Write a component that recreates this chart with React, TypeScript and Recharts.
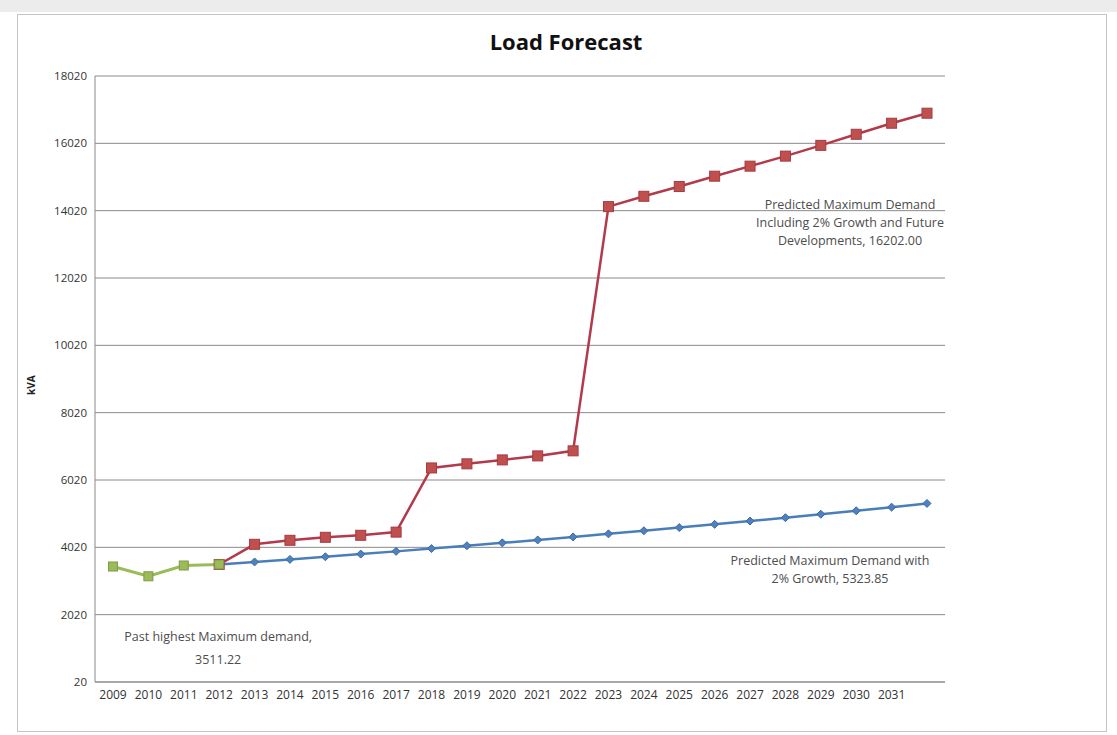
import React from 'react';
import { LineChart, Line, XAxis, YAxis, CartesianGrid, ReferenceDot } from 'recharts';

// years on the category axis (last point has no printed label)
const years = ['2009', '2010', '2011', '2012', '2013', '2014', '2015', '2016', '2017', '2018', '2019', '2020',
  '2021', '2022', '2023', '2024', '2025', '2026', '2027', '2028', '2029', '2030', '2031', '2032'];
const xTickLabels = ['2009', '2010', '2011', '2012', '2013', '2014', '2015', '2016', '2017', '2018', '2019', '2020',
  '2021', '2022', '2023', '2024', '2025', '2026', '2027', '2028', '2029', '2030', '2031', ''];

// past recorded demand (kVA)
const pastDemand = [3450, 3160, 3480, 3511, null, null, null, null, null, null, null, null,
  null, null, null, null, null, null, null, null, null, null, null, null];

// predicted maximum demand with 2% growth
const growthDemand = [null, null, null, 3511, 3586, 3662, 3740, 3819, 3900, 3983, 4067, 4153,
  4240, 4329, 4420, 4513, 4607, 4703, 4801, 4901, 5003, 5107, 5213, 5324];

// predicted maximum demand including future developments
const futureDemand = [null, null, null, 3511, 4110, 4229, 4318, 4378, 4472, 6378, 6500, 6617,
  6736, 6886, 14140, 14447, 14737, 15044, 15342, 15640, 15960, 16289, 16617, 16915];

const yTicks = [20, 2020, 4020, 6020, 8020, 10020, 12020, 14020, 16020, 18020];

const data = years.map((year, i) => ({
  year,
  past: pastDemand[i],
  growth: growthDemand[i],
  future: futureDemand[i],
}));

const FONT = '"Open Sans", "Noto Sans", sans-serif';

const squareDot = (size: number, fill: string, stroke: string) => (props: any) => {
  const { cx, cy, index } = props;
  if (cx == null || cy == null || props.value == null) return <g key={`s-${index}`} />;
  return (
    <rect key={`s-${index}`} x={cx - size / 2} y={cy - size / 2} width={size} height={size}
      fill={fill} stroke={stroke} strokeWidth={1} />
  );
};

const diamondDot = (size: number, fill: string, stroke: string) => (props: any) => {
  const { cx, cy, index } = props;
  if (cx == null || cy == null || props.value == null) return <g key={`d-${index}`} />;
  const h = size / 2;
  return (
    <path key={`d-${index}`} d={`M${cx},${cy - h} L${cx + h},${cy} L${cx},${cy + h} L${cx - h},${cy} Z`}
      fill={fill} stroke={stroke} strokeWidth={1} />
  );
};

const noteLabel = (lines: string[], dx: number, dy: number, gap = 18) => (props: any) => {
  const vb = props.viewBox || {};
  const x = (vb.x || 0) + (vb.width || 0) / 2 + dx;
  const y = (vb.y || 0) + (vb.height || 0) / 2 + dy;
  return (
    <text x={x} y={y} textAnchor="middle" fontFamily={FONT} fontSize={12.5} fill="#4d4d4d">
      {lines.map((l, i) => (
        <tspan key={i} x={x} dy={i === 0 ? 0 : gap}>{l}</tspan>
      ))}
    </text>
  );
};

export default function App() {
  return (
    <div style={{ position: 'absolute', left: 0, top: 0, width: 1117, height: 735, background: '#fff' }}>
      <div style={{ position: 'absolute', left: 0, top: 0, width: 1117, height: 12, background: '#ececec' }} />
      <div style={{
        position: 'absolute', left: 17, top: 14, width: 1090, height: 718,
        border: '1px solid #c4c4c4', boxSizing: 'border-box',
      }} />
      <div style={{
        position: 'absolute', left: 0, top: 26, width: 1132, textAlign: 'center',
        fontFamily: FONT, fontWeight: 700, fontSize: 22, lineHeight: '30px', color: '#111',
      }}>
        Load Forecast
      </div>
      <div style={{ position: 'absolute', left: 0, top: 0 }}>
        <LineChart width={1117} height={735} data={data}
          margin={{ top: 76, right: 172, left: 35, bottom: 23 }}>
          <CartesianGrid vertical={false} stroke="#8a8a8a" strokeWidth={1} />
          <XAxis dataKey="year" interval={0} padding={{ left: 18, right: 18 }}
            tickFormatter={(_v: any, i: number) => xTickLabels[i]}
            tick={{ fontFamily: FONT, fontSize: 12, fill: '#333' }}
            tickLine={false} axisLine={{ stroke: '#8a8a8a' }} height={30} />
          <YAxis domain={[20, 18020]} ticks={yTicks} interval={0} width={60}
            tick={{ fontFamily: FONT, fontSize: 11.5, fill: '#333' }}
            tickLine={false} axisLine={{ stroke: '#8a8a8a' }}
            label={{ value: 'kVA', angle: -90, position: 'insideLeft', offset: -4, dy: 16,
              style: { fontFamily: FONT, fontSize: 10, fontWeight: 700, fill: '#222' } }} />
          <Line type="linear" dataKey="growth" stroke="#4a7ebb" strokeWidth={2.5}
            dot={diamondDot(8, '#4f81bd', '#3a6aa5')} activeDot={false} isAnimationActive={false} />
          <Line type="linear" dataKey="future" stroke="#b23a4a" strokeWidth={2.5}
            dot={squareDot(10, '#c0504d', '#a33a45')} activeDot={false} isAnimationActive={false} />
          <Line type="linear" dataKey="past" stroke="#9bbb59" strokeWidth={3}
            dot={squareDot(9, '#9bbb59', '#7f9a45')} activeDot={false} isAnimationActive={false} />
          <ReferenceDot x="2032" y={16202} r={0} stroke="none" fill="none"
            label={noteLabel(['Predicted Maximum Demand', 'Including 2% Growth and Future', 'Developments, 16202.00'], -77, 72)} />
          <ReferenceDot x="2032" y={5324} r={0} stroke="none" fill="none"
            label={noteLabel(['Predicted Maximum Demand with', '2% Growth, 5323.85'], -97, 62)} />
          <ReferenceDot x="2012" y={3511} r={0} stroke="none" fill="none"
            label={noteLabel(['Past highest Maximum demand,', '3511.22'], -1, 77, 23)} />
        </LineChart>
      </div>
    </div>
  );
}
